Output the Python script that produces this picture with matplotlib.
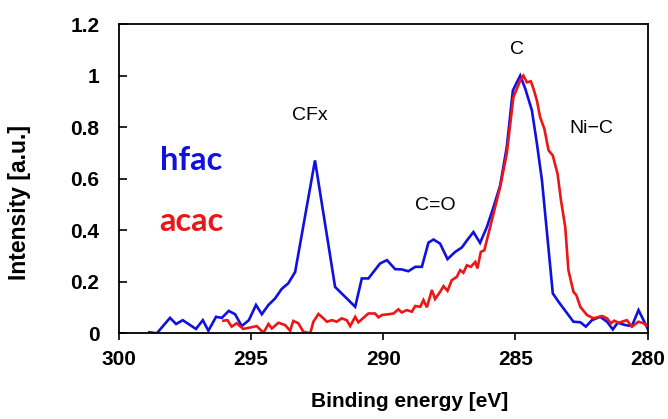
import matplotlib
matplotlib.use("Agg")
import matplotlib.pyplot as plt
from matplotlib.ticker import FixedLocator

# ---- data ----
hfac_energy = [298.84, 298.56, 298.06, 297.83, 297.58, 297.08, 296.82, 296.61, 296.32, 296.10,
               295.84, 295.60, 295.35, 295.08, 294.81, 294.59, 294.34, 294.09, 293.84, 293.59,
               293.33, 292.58, 291.82, 291.06, 290.81, 290.56, 290.37, 290.12, 289.86, 289.55,
               289.30, 289.05, 288.79, 288.54, 288.29, 288.10, 287.85, 287.57, 287.28, 287.03,
               286.78, 286.59, 286.34, 286.08, 285.83, 285.58, 285.33, 285.10, 284.95, 284.82,
               284.63, 284.38, 284.19, 284.00, 283.59, 283.37, 282.81, 282.55, 282.34, 282.11,
               281.80, 281.54, 281.32, 281.14, 280.85, 280.60, 280.35, 280.16, 280.01]
hfac_intensity = [0.004, 0.000, 0.060, 0.036, 0.051, 0.017, 0.051, 0.010, 0.064, 0.060,
                  0.087, 0.074, 0.028, 0.051, 0.110, 0.074, 0.110, 0.135, 0.172, 0.194,
                  0.238, 0.671, 0.180, 0.103, 0.213, 0.213, 0.238, 0.271, 0.284, 0.249,
                  0.248, 0.241, 0.258, 0.258, 0.352, 0.364, 0.348, 0.288, 0.316, 0.333,
                  0.368, 0.393, 0.351, 0.413, 0.490, 0.574, 0.722, 0.942, 0.974, 1.000,
                  0.949, 0.865, 0.736, 0.594, 0.155, 0.122, 0.045, 0.043, 0.026, 0.051,
                  0.064, 0.045, 0.015, 0.041, 0.032, 0.028, 0.090, 0.051, 0.019]

acac_energy = [296.04, 295.89, 295.73, 295.54, 295.29, 294.78, 294.53, 294.34, 294.21, 293.96,
               293.71, 293.52, 293.40, 293.21, 293.02, 292.76, 292.64, 292.45, 292.26, 292.13,
               291.94, 291.76, 291.57, 291.38, 291.25, 291.06, 290.94, 290.75, 290.56, 290.31,
               290.18, 290.05, 289.80, 289.61, 289.43, 289.30, 289.11, 288.92, 288.79, 288.60,
               288.48, 288.35, 288.16, 288.04, 287.85, 287.72, 287.57, 287.41, 287.22, 287.09,
               286.97, 286.84, 286.69, 286.52, 286.44, 286.31, 286.18, 286.02, 285.83, 285.58,
               285.33, 285.08, 284.82, 284.70, 284.57, 284.42, 284.32, 284.19, 284.07, 283.91,
               283.75, 283.59, 283.41, 283.28, 283.12, 283.00, 282.81, 282.70, 282.55, 282.30,
               282.05, 281.73, 281.54, 281.39, 281.27, 281.10, 280.79, 280.60, 280.35, 280.16,
               280.00]
acac_intensity = [0.049, 0.051, 0.026, 0.039, 0.017, 0.028, 0.002, 0.036, 0.019, 0.041,
                  0.032, 0.010, 0.048, 0.039, 0.006, 0.000, 0.045, 0.075, 0.058, 0.045,
                  0.051, 0.045, 0.058, 0.051, 0.028, 0.064, 0.043, 0.060, 0.077, 0.077,
                  0.062, 0.071, 0.074, 0.077, 0.093, 0.081, 0.090, 0.084, 0.106, 0.103,
                  0.129, 0.101, 0.168, 0.133, 0.161, 0.183, 0.165, 0.206, 0.219, 0.245,
                  0.235, 0.264, 0.258, 0.277, 0.252, 0.316, 0.322, 0.387, 0.465, 0.568,
                  0.697, 0.916, 0.981, 1.000, 0.974, 0.978, 0.949, 0.903, 0.839, 0.794,
                  0.710, 0.690, 0.619, 0.516, 0.413, 0.245, 0.161, 0.148, 0.103, 0.071,
                  0.058, 0.067, 0.058, 0.039, 0.049, 0.041, 0.051, 0.026, 0.045, 0.039,
                  0.026]

x_ticks = [300, 295, 290, 285, 280]
y_ticks = [0, 0.2, 0.4, 0.6, 0.8, 1.0, 1.2]
y_tick_labels = ["0", "0.2", "0.4", "0.6", "0.8", "1", "1.2"]

peak_labels = ["CFx", "C=O", "C", "Ni\u2212C"]
peak_label_x = [292.76, 288.04, 284.95, 282.14]
peak_label_y = [0.845, 0.495, 1.10, 0.795]

series_names = ["hfac", "acac"]
series_colors = ["#1010e0", "#ec1616"]

# ---- figure ----
fig = plt.figure(figsize=(6.68, 4.19), dpi=100)
ax = fig.add_axes([0.1777, 0.2045, 0.792, 0.738])

ax.plot(hfac_energy, hfac_intensity, color=series_colors[0], lw=1.9, solid_joinstyle="miter")
ax.plot(acac_energy, acac_intensity, color=series_colors[1], lw=1.9, solid_joinstyle="miter")

ax.set_xlim(300, 280)
ax.set_ylim(0, 1.2)
ax.xaxis.set_major_locator(FixedLocator(x_ticks))
ax.set_yticks(y_ticks)
ax.set_yticklabels(y_tick_labels)

for s in ax.spines.values():
    s.set_linewidth(1.3)
    s.set_color("black")

ax.tick_params(axis="x", direction="out", length=5, width=1.2, pad=7)
ax.tick_params(axis="y", direction="in", length=6, width=1.2, pad=14)
for lab in ax.get_xticklabels() + ax.get_yticklabels():
    lab.set_fontfamily("Liberation Sans")
    lab.set_fontweight("bold")
    lab.set_fontsize(15)

ax.set_xlabel("Binding energy [eV]", fontfamily="Liberation Sans", fontweight="bold",
              fontsize=15)
ax.xaxis.set_label_coords(0.55, -0.19)
ax.set_ylabel("Intensity [a.u.]", fontfamily="Liberation Sans", fontweight="bold",
              fontsize=16.5, va="center")
ax.yaxis.set_label_coords(-0.188, 0.4245)

for t, x, y in zip(peak_labels, peak_label_x, peak_label_y):
    ax.text(x, y, t, ha="center", va="center", fontfamily="Liberation Sans", fontsize=14)

ax.text(297.27, 0.671, series_names[0], color=series_colors[0], ha="center", va="center",
        fontfamily="Lato", fontweight="bold", fontsize=23.5)
ax.text(297.27, 0.435, series_names[1], color=series_colors[1], ha="center", va="center",
        fontfamily="Lato", fontweight="bold", fontsize=23.5)

fig.savefig("out.png", dpi=100)
